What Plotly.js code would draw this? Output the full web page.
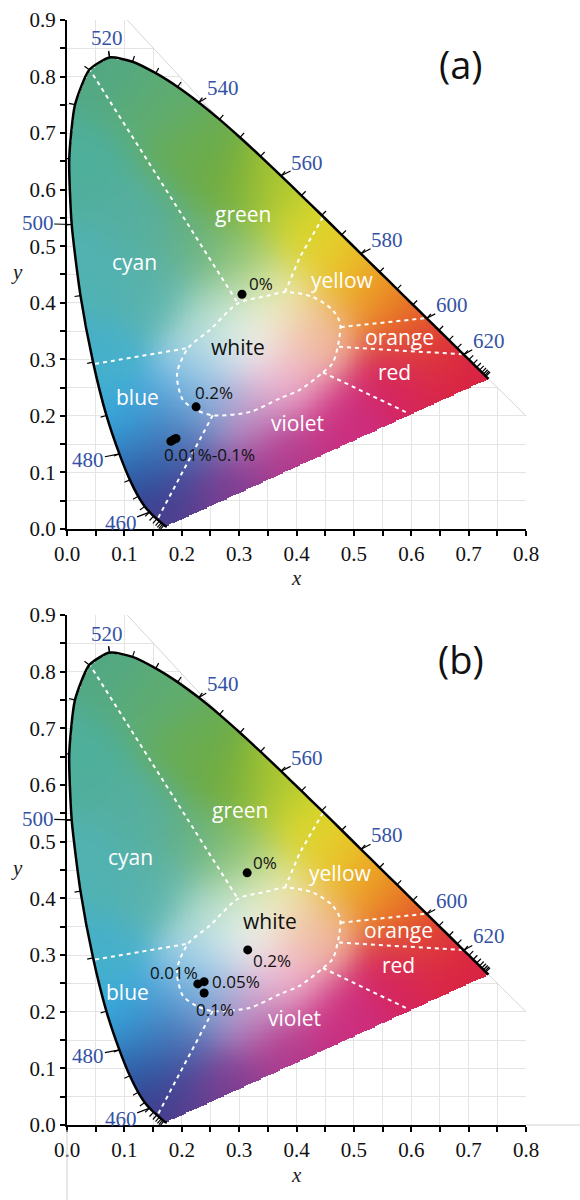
<!DOCTYPE html>
<html><head><meta charset="utf-8">
<script src="https://cdn.plot.ly/plotly-3.0.1.min.js"></script>
<style>html,body{margin:0;padding:0;background:#fff}</style>
</head><body><div id="chart" style="width:580px;height:1200px"></div>
<script>
// ---------- DATA ----------
// CIE 1931 spectral locus (nm, x, y)
const wavelengths = [380,385,390,395,400,405,410,415,420,425,430,435,440,445,450,455,460,465,470,475,480,485,490,495,500,505,510,515,520,525,530,535,540,545,550,555,560,565,570,575,580,585,590,595,600,605,610,615,620,625,630,635,640,645,650,655,660,665,670,675,680,690,700];
const locusX = [0.1741,0.1740,0.1738,0.1736,0.1733,0.1730,0.1726,0.1721,0.1714,0.1703,0.1689,0.1669,0.1644,0.1611,0.1566,0.1510,0.1440,0.1355,0.1241,0.1096,0.0913,0.0687,0.0454,0.0235,0.0082,0.0039,0.0139,0.0389,0.0743,0.1142,0.1547,0.1929,0.2296,0.2658,0.3016,0.3373,0.3731,0.4087,0.4441,0.4788,0.5125,0.5448,0.5752,0.6029,0.6270,0.6482,0.6658,0.6801,0.6915,0.7006,0.7079,0.7140,0.7190,0.7230,0.7260,0.7283,0.7300,0.7311,0.7320,0.7327,0.7334,0.7344,0.7347];
const locusY = [0.0050,0.0050,0.0049,0.0049,0.0048,0.0048,0.0048,0.0048,0.0051,0.0058,0.0069,0.0086,0.0109,0.0138,0.0177,0.0227,0.0297,0.0399,0.0578,0.0868,0.1327,0.2007,0.2950,0.4127,0.5384,0.6548,0.7502,0.8120,0.8338,0.8262,0.8059,0.7816,0.7543,0.7243,0.6923,0.6589,0.6245,0.5896,0.5547,0.5202,0.4866,0.4544,0.4242,0.3965,0.3725,0.3514,0.3340,0.3197,0.3083,0.2993,0.2920,0.2859,0.2809,0.2770,0.2740,0.2717,0.2700,0.2689,0.2680,0.2673,0.2666,0.2656,0.2653];
const labelledWavelengths = [460,480,500,520,540,560,580,600,620];
const tickedFrom = 430, tickedTo = 660;

// colour-region boundaries (dashed white)
const whiteBoundaryX = [0.298,0.348,0.380,0.429,0.463,0.476,0.474,0.463,0.446,0.406,0.371,0.319,0.254,0.226,0.202,0.192,0.193,0.211,0.249,0.298];
const whiteBoundaryY = [0.399,0.412,0.419,0.410,0.387,0.364,0.334,0.293,0.277,0.246,0.231,0.207,0.201,0.210,0.228,0.263,0.281,0.320,0.352,0.399];
const cyanGreenX = [0.038,0.298], cyanGreenY = [0.815,0.399];
const cyanBlueX = [0.049,0.211], cyanBlueY = [0.292,0.320];
const greenYellowX = [0.446,0.406,0.380], greenYellowY = [0.551,0.481,0.419];
const yellowOrangeX = [0.477,0.627], yellowOrangeY = [0.357,0.373];
const orangeRedX = [0.474,0.688], orangeRedY = [0.322,0.309];
const redVioletX = [0.446,0.594], redVioletY = [0.277,0.205];
const blueVioletX = [0.254,0.157], blueVioletY = [0.201,0.016];

// region names
const regionNames = ['cyan','green','yellow','orange','red','violet','blue','white'];
const regionXA = [0.117,0.307,0.481,0.580,0.571,0.401,0.122,0.298];
const regionYA = [0.472,0.557,0.440,0.339,0.277,0.187,0.233,0.322];
const regionXB = [0.111,0.301,0.476,0.577,0.577,0.397,0.105,0.354];
const regionYB = [0.473,0.556,0.445,0.345,0.283,0.189,0.235,0.360];

// measured points, panel (a)
const pointsAX = [0.305,0.225,0.181,0.186,0.190];
const pointsAY = [0.415,0.216,0.155,0.158,0.160];
const pointLabelsA = ['0%','0.2%','0.01%-0.1%'];
const pointLabelIdxA = [0,1,2];
// measured points, panel (b)
const pointsBX = [0.314,0.315,0.228,0.239,0.239];
const pointsBY = [0.445,0.309,0.249,0.253,0.233];
const pointLabelsB = ['0%','0.2%','0.01%','0.05%','0.1%'];

// grid frame corners
const frameTopX = [0.105], frameTopY = [0.9];
const frameRightX = [0.8], frameRightY = [0.2];

// ---------- STYLE ----------
const PXX = 574, PXY = 566; // pixels per unit
const blueLbl = 'rgb(52,82,165)';
const serif = 'Liberation Serif, Times New Roman, serif';
const sans = 'Open Sans, Noto Sans, sans-serif';
const wlOffsets = {460:[-29,11],480:[-31,6],500:[-34,-1],520:[-3,-19],540:[24,-14],560:[26,-13],580:[26,-14],600:[25,-13],620:[25,-14]};
const labelShiftA = [[5,11,'left'],[-3,14,'left'],[-9,-13,'left']];
const labelShiftB = [[4,10,'left'],[3,-11,'left'],[2,11,'right'],[6,0,'left'],[11,-17,'center']];

// colour field anchors (x, y, rgb) - visual rendering of the gamut
const anchors = [
 [0.075,0.80,[82,168,132]],[0.15,0.75,[95,172,112]],[0.03,0.65,[78,175,155]],[0.22,0.66,[105,172,82]],
 [0.28,0.60,[110,170,58]],[0.36,0.60,[178,202,48]],[0.42,0.52,[220,217,42]],[0.48,0.47,[235,196,40]],
 [0.54,0.42,[236,150,36]],[0.60,0.37,[230,105,36]],[0.66,0.32,[222,52,56]],[0.71,0.28,[215,30,70]],
 [0.58,0.27,[214,36,92]],[0.48,0.19,[204,45,126]],[0.38,0.13,[178,56,140]],[0.28,0.07,[128,60,145]],
 [0.20,0.02,[100,64,145]],[0.155,0.05,[45,55,135]],[0.13,0.11,[42,108,180]],[0.11,0.19,[55,170,222]],
 [0.06,0.30,[70,176,202]],[0.05,0.45,[80,178,178]],[0.15,0.42,[88,178,172]],[0.13,0.55,[85,175,160]],
 [0.22,0.50,[100,176,135]],[0.30,0.48,[145,196,110]],[0.32,0.33,[250,250,248]],[0.24,0.28,[172,214,236]],
 [0.38,0.26,[238,176,206]],[0.36,0.41,[236,238,182]],[0.43,0.34,[240,186,152]],[0.26,0.38,[178,220,204]],
 [0.21,0.22,[88,168,220]],[0.19,0.15,[78,100,170]],[0.30,0.20,[190,150,200]]
];
const SIGMA = 0.05;

// ---------- BUILD ----------
function inside(px,py,xs,ys){let c=false;for(let i=0,j=xs.length-1;i<xs.length;j=i++){if(((ys[i]>py)!=(ys[j]>py))&&(px<(xs[j]-xs[i])*(py-ys[i])/(ys[j]-ys[i])+xs[i]))c=!c;}return c;}
function colorAt(x,y){let sw=0,r=0,g=0,b=0;for(const a of anchors){const dx=x-a[0],dy=y-a[1];const w=Math.exp(-(dx*dx+dy*dy)/(2*SIGMA*SIGMA))+1e-30;sw+=w;r+=w*a[2][0];g+=w*a[2][1];b+=w*a[2][2];}return [r/sw,g/sw,b/sw];}
const DX=0.002,NX=400,NY=450;
const z=[];
for(let r=0;r<NY;r++){const y=(r+0.5)*DX;const row=[];for(let c=0;c<NX;c++){const x=(c+0.5)*DX;if(inside(x,y,locusX,locusY)){const col=colorAt(x,y);row.push([Math.round(col[0]),Math.round(col[1]),Math.round(col[2]),1]);}else row.push([255,255,255,0]);}z.push(row);}

// ticks on locus
const tickX=[],tickY=[];
for(let i=1;i<wavelengths.length-1;i++){
  const tx=(locusX[i+1]-locusX[i-1])*PXX, ty=(locusY[i+1]-locusY[i-1])*PXY;
  const L=Math.hypot(tx,ty); const nx=-ty/L, ny=tx/L;
  if(wavelengths[i]>=tickedFrom && wavelengths[i]<=tickedTo){
    tickX.push(locusX[i],locusX[i]+6*nx/PXX,null);
    tickY.push(locusY[i],locusY[i]+6*ny/PXY,null);
  }
}
const i545 = wavelengths.indexOf(545);
const whiteoutX=[frameTopX[0]].concat(locusX.slice(i545),[frameRightX[0],0.86,0.86,frameTopX[0]]);
const whiteoutY=[frameTopY[0]].concat(locusY.slice(i545),[frameRightY[0],frameRightY[0],0.96,0.96]);

const traces=[];const annotations=[];
function panel(xa,ya,ptsX,ptsY,regX,regY,labels,shifts,labelIdx,tag,tagY){
  const ax={xaxis:xa,yaxis:ya,hoverinfo:'skip',showlegend:false};
  traces.push(Object.assign({type:'image',z:z,colormodel:'rgba',x0:DX/2,y0:DX/2,dx:DX,dy:DX},ax));
  traces.push(Object.assign({type:'scatter',mode:'lines',x:whiteoutX,y:whiteoutY,fill:'toself',fillcolor:'#fff',line:{width:0}},ax));
  traces.push(Object.assign({type:'scatter',mode:'lines',x:[frameTopX[0],locusX[i545],null,locusX[locusX.length-1],frameRightX[0]],y:[frameTopY[0],locusY[i545],null,locusY[locusY.length-1],frameRightY[0]],line:{color:'#d6d6d6',width:1}},ax));
  const dash={color:'#fff',width:2,dash:'4px,4px'};
  [[whiteBoundaryX,whiteBoundaryY,'spline'],[cyanGreenX,cyanGreenY],[cyanBlueX,cyanBlueY],[greenYellowX,greenYellowY],[yellowOrangeX,yellowOrangeY],[orangeRedX,orangeRedY],[redVioletX,redVioletY],[blueVioletX,blueVioletY]].forEach(s=>{
    traces.push(Object.assign({type:'scatter',mode:'lines',x:s[0],y:s[1],line:Object.assign({shape:s[2]||'linear',smoothing:0.8},dash)},ax));
  });
  traces.push(Object.assign({type:'scatter',mode:'lines',x:locusX,y:locusY,line:{color:'#000',width:2.5,shape:'spline',smoothing:0.6}},ax));
  traces.push(Object.assign({type:'scatter',mode:'lines',x:tickX,y:tickY,line:{color:'#000',width:1.2}},ax));
  traces.push(Object.assign({type:'scatter',mode:'markers',x:ptsX,y:ptsY,marker:{color:'#000',size:9}},ax));
  labelledWavelengths.forEach(w=>{const i=wavelengths.indexOf(w);const o=wlOffsets[w];
    annotations.push({xref:xa,yref:ya,x:locusX[i],y:locusY[i],text:String(w),showarrow:true,arrowhead:0,arrowwidth:1.2,arrowcolor:'#000',ax:o[0],ay:o[1],standoff:0,borderpad:0,font:{family:serif,size:21,color:blueLbl}});
  });
  regionNames.forEach((n,k)=>{annotations.push({xref:xa,yref:ya,x:regX[k],y:regY[k],text:n,showarrow:false,font:{family:sans,size:21,color:n==='white'?'#111':'#fff'}});});
  labels.forEach((t,k)=>{const i=labelIdx[k];const s=shifts[k];
    annotations.push({xref:xa,yref:ya,x:ptsX[i],y:ptsY[i],text:t,showarrow:false,xanchor:s[2],yanchor:'middle',xshift:s[0],yshift:s[1],font:{family:sans,size:17,color:'#111'}});});
  annotations.push({xref:'paper',yref:'paper',x:0.858,y:tagY,xanchor:'center',yanchor:'middle',text:tag,showarrow:false,font:{family:sans,size:38,color:'#111'}});
}
panel('x','y',pointsAX,pointsAY,regionXA,regionYA,pointLabelsA,labelShiftA,pointLabelIdxA,'(a)',0.9602);
panel('x2','y2',pointsBX,pointsBY,regionXB,regionYB,pointLabelsB,labelShiftB,[0,1,2,3,4],'(b)',0.4213);

// axis titles
const tf={family:serif,size:21,color:'#222'};
annotations.push({xref:'paper',yref:'paper',x:-0.109,y:0.772,xanchor:'center',yanchor:'middle',text:'<i>y</i>',showarrow:false,font:tf});
annotations.push({xref:'paper',yref:'paper',x:0.501,y:0.4950,xanchor:'center',yanchor:'middle',text:'<i>x</i>',showarrow:false,font:tf});
annotations.push({xref:'paper',yref:'paper',x:-0.109,y:0.2326,xanchor:'center',yanchor:'middle',text:'<i>y</i>',showarrow:false,font:tf});
annotations.push({xref:'paper',yref:'paper',x:0.501,y:-0.0448,xanchor:'center',yanchor:'middle',text:'<i>x</i>',showarrow:false,font:tf});

function axX(anchor){return {anchor:anchor,domain:[0,1],range:[0,0.8],autorange:false,dtick:0.1,tick0:0,tickformat:'.1f',ticks:'outside',ticklen:5,tickwidth:2,tickcolor:'#000',showline:true,linecolor:'#000',linewidth:2,showgrid:true,gridcolor:'#e4e4e4',gridwidth:1,zeroline:false,
  minor:{dtick:0.05,tick0:0,ticks:'outside',ticklen:5,tickwidth:2,tickcolor:'#000',showgrid:true,gridcolor:'#e4e4e4',gridwidth:1},
  tickfont:{family:serif,size:21,color:'#111'},fixedrange:true};}
function axY(anchor,domain){const a=axX(anchor);a.domain=domain;a.range=[0,0.9];a.scaleanchor=false;return a;}

const layout={width:580,height:1200,margin:{l:67,r:54,t:20,b:75},paper_bgcolor:'#fff',plot_bgcolor:'#fff',showlegend:false,
 xaxis:axX('y'),yaxis:axY('x',[0.5394,1]),xaxis2:axX('y2'),yaxis2:axY('x2',[0,0.4615]),
 annotations:annotations,
 shapes:[{type:'line',xref:'paper',yref:'paper',x0:0,x1:0,y0:-0.0045,y1:-0.07,line:{color:'#d0d0d0',width:1}},
         {type:'line',xref:'paper',yref:'paper',x0:1,x1:1.12,y0:0,y1:0,line:{color:'#d0d0d0',width:1}}]};
Plotly.newPlot('chart',traces,layout,{staticPlot:true,displayModeBar:false});
</script></body></html>
